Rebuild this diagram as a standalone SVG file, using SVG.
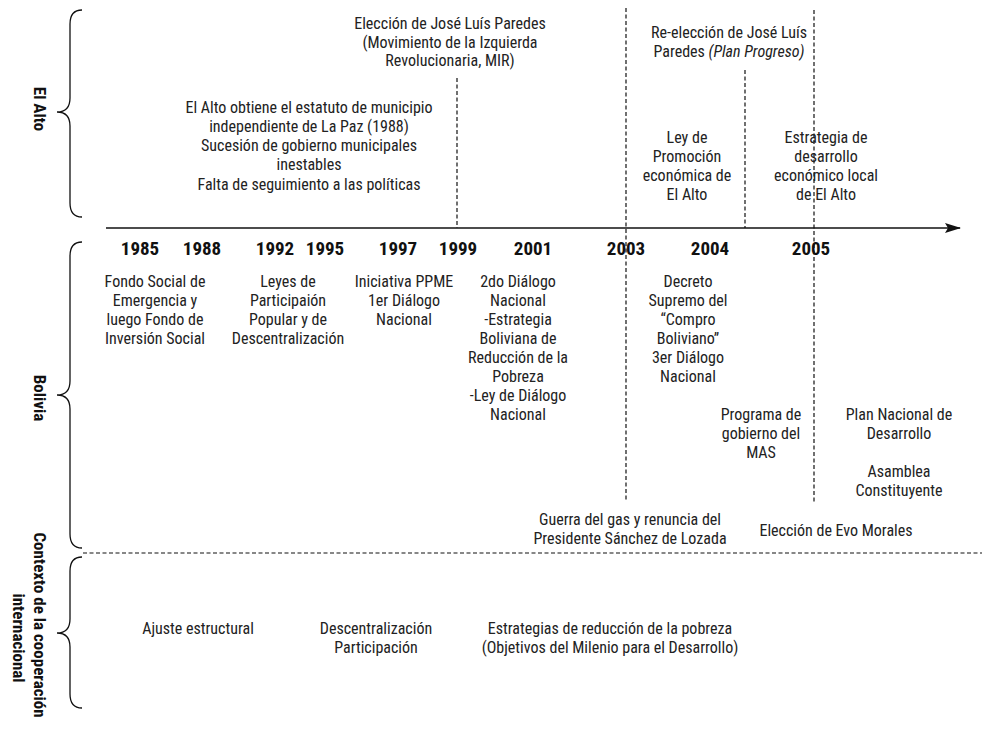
<svg xmlns="http://www.w3.org/2000/svg" width="982" height="738" viewBox="0 0 982 738">
<defs>
<marker id="arrow" markerWidth="16" markerHeight="10" refX="15" refY="5" orient="auto" markerUnits="userSpaceOnUse">
<path d="M0,0 L16,5 L0,10 L3,5 Z" fill="#111"/>
</marker>
<style>
text{font-family:"Roboto Condensed","Liberation Sans Narrow","Liberation Sans",sans-serif;fill:#222;}
.t{font-size:16px;text-anchor:middle;}
.yr{font-size:19px;font-weight:bold;text-anchor:middle;fill:#111;}
.lbl{font-size:17px;font-weight:bold;text-anchor:middle;fill:#111;}
.brace{fill:none;stroke:#111;stroke-width:1.3;}
.dash{fill:none;stroke:#111;stroke-width:1.2;stroke-dasharray:4 2.5;}
.axis{fill:none;stroke:#111;stroke-width:1.5;}
</style>
</defs>
<rect width="982" height="738" fill="#fff"/>

<g id="connectors">
<line class="axis" x1="106" y1="228" x2="960" y2="228" marker-end="url(#arrow)"/>
<line class="dash" x1="457" y1="78" x2="457" y2="228"/>
<line class="dash" x1="626" y1="8" x2="626" y2="502"/>
<line class="dash" x1="745" y1="70" x2="745" y2="228"/>
<line class="dash" x1="814" y1="10" x2="814" y2="502"/>
<line class="dash" x1="83" y1="553" x2="982" y2="553"/>
</g>

<g id="brace-elalto">
<path class="brace" d="M82,10 Q70,10 70,24 L70,98 Q70,112 57,112 Q70,112 70,126 L70,203 Q70,217 82,217"/>
<text class="lbl" transform="translate(34,109) rotate(90)">El Alto</text>
</g>
<g id="brace-bolivia">
<path class="brace" d="M82,242 Q70,242 70,256 L70,381 Q70,395 57,395 Q70,395 70,409 L70,534 Q70,548 82,548"/>
<text class="lbl" transform="translate(34,398) rotate(90)">Bolivia</text>
</g>
<g id="brace-contexto">
<path class="brace" d="M82,557 Q70,557 70,571 L70,619 Q70,633 57,633 Q70,633 70,647 L70,694 Q70,708 82,708"/>
<text class="lbl" transform="translate(34,625) rotate(90)">Contexto de la cooperación</text>
<text class="lbl" transform="translate(13,638) rotate(90)">internacional</text>
</g>

<g id="years">
<text class="yr" x="140" y="255">1985</text>
<text class="yr" x="202" y="255">1988</text>
<text class="yr" x="275" y="255">1992</text>
<text class="yr" x="325" y="255">1995</text>
<text class="yr" x="398" y="255">1997</text>
<text class="yr" x="458" y="255">1999</text>
<text class="yr" x="533" y="255">2001</text>
<text class="yr" x="626" y="255">2003</text>
<text class="yr" x="710" y="255">2004</text>
<text class="yr" x="811" y="255">2005</text>
</g>

<g id="ea-municipio">
<text class="t" x="309" y="113">El Alto obtiene el estatuto de municipio</text>
<text class="t" x="309" y="132">independiente de La Paz (1988)</text>
<text class="t" x="309" y="151">Sucesión de gobierno municipales</text>
<text class="t" x="309" y="170">inestables</text>
<text class="t" x="309" y="190">Falta de seguimiento a las políticas</text>
</g>
<g id="ea-eleccion">
<text class="t" x="450" y="29">Elección de José Luís Paredes</text>
<text class="t" x="450" y="48">(Movimiento de la Izquierda</text>
<text class="t" x="450" y="66">Revolucionaria, MIR)</text>
</g>
<g id="ea-reeleccion">
<text class="t" x="729" y="38">Re-elección de José Luís</text>
<text class="t" x="729" y="57">Paredes <tspan font-style="italic">(Plan Progreso)</tspan></text>
</g>
<g id="ea-ley">
<text class="t" x="687" y="143">Ley de</text>
<text class="t" x="687" y="162">Promoción</text>
<text class="t" x="687" y="181">económica de</text>
<text class="t" x="687" y="200">El Alto</text>
</g>
<g id="ea-estrategia">
<text class="t" x="826" y="143">Estrategia de</text>
<text class="t" x="826" y="162">desarrollo</text>
<text class="t" x="826" y="181">económico local</text>
<text class="t" x="826" y="200">de El Alto</text>
</g>

<g id="bo-fondo">
<text class="t" x="155" y="287">Fondo Social de</text>
<text class="t" x="155" y="306">Emergencia y</text>
<text class="t" x="155" y="325">luego Fondo de</text>
<text class="t" x="155" y="344">Inversión Social</text>
</g>
<g id="bo-leyes">
<text class="t" x="288" y="287">Leyes de</text>
<text class="t" x="288" y="306">Participaión</text>
<text class="t" x="288" y="325">Popular y de</text>
<text class="t" x="288" y="344">Descentralización</text>
</g>
<g id="bo-ppme">
<text class="t" x="404" y="287">Iniciativa PPME</text>
<text class="t" x="404" y="306">1er Diálogo</text>
<text class="t" x="404" y="325">Nacional</text>
</g>
<g id="bo-dialogo2">
<text class="t" x="518" y="287">2do Diálogo</text>
<text class="t" x="518" y="306">Nacional</text>
<text class="t" x="518" y="325">-Estrategia</text>
<text class="t" x="518" y="344">Boliviana de</text>
<text class="t" x="518" y="363">Reducción de la</text>
<text class="t" x="518" y="382">Pobreza</text>
<text class="t" x="518" y="401">-Ley de Diálogo</text>
<text class="t" x="518" y="420">Nacional</text>
</g>
<g id="bo-decreto">
<text class="t" x="688" y="287">Decreto</text>
<text class="t" x="688" y="306">Supremo del</text>
<text class="t" x="688" y="325">“Compro</text>
<text class="t" x="688" y="344">Boliviano”</text>
<text class="t" x="688" y="363">3er Diálogo</text>
<text class="t" x="688" y="382">Nacional</text>
</g>
<g id="bo-mas">
<text class="t" x="761" y="420">Programa de</text>
<text class="t" x="761" y="439">gobierno del</text>
<text class="t" x="761" y="458">MAS</text>
</g>
<g id="bo-plan">
<text class="t" x="899" y="420">Plan Nacional de</text>
<text class="t" x="899" y="439">Desarrollo</text>
<text class="t" x="899" y="477">Asamblea</text>
<text class="t" x="899" y="496">Constituyente</text>
</g>
<g id="bo-guerra">
<text class="t" x="630" y="525">Guerra del gas y renuncia del</text>
<text class="t" x="630" y="544">Presidente Sánchez de Lozada</text>
</g>
<g id="bo-evo">
<text class="t" x="836" y="536">Elección de Evo Morales</text>
</g>

<g id="ci-ajuste">
<text class="t" x="198" y="634">Ajuste estructural</text>
</g>
<g id="ci-descentral">
<text class="t" x="376" y="634">Descentralización</text>
<text class="t" x="376" y="653">Participación</text>
</g>
<g id="ci-estrategias">
<text class="t" x="610" y="634">Estrategias de reducción de la pobreza</text>
<text class="t" x="610" y="653">(Objetivos del Milenio para el Desarrollo)</text>
</g>
</svg>
